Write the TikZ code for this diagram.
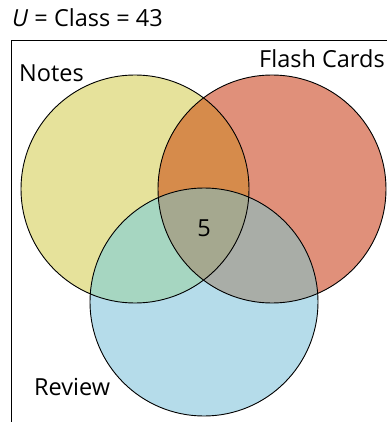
\documentclass[tikz,border=0pt]{standalone}
\usepackage{fontspec}
\setmainfont{Open Sans}
\definecolor{notescol}{HTML}{E6E29B}
\definecolor{flashcol}{HTML}{E0907A}
\definecolor{reviewcol}{HTML}{B5DCEA}
\definecolor{nfcol}{HTML}{D68B4B}
\definecolor{nrcol}{HTML}{A6D6C1}
\definecolor{frcol}{HTML}{A9ADA7}
\definecolor{allcol}{HTML}{A5A88F}
\begin{document}
\begin{tikzpicture}[x=1pt, y=-1pt]
  % Define styles
  \tikzset{setline/.style={draw=black, line width=0.9pt},
           label/.style={font=\fontsize{23.5}{27}\selectfont, inner sep=0pt, anchor=base west}}
  \useasboundingbox (0,0) rectangle (386,422);

  % Centres
  \coordinate (notes) at (135,189);
  \coordinate (flash) at (272,189);
  \coordinate (review) at (204,302);
  \def\rad{114}

  % Universe
  \draw[line width=0.9pt] (11,422) -- (11,40) -- (390,40);

  % Sets
  \fill[notescol] (notes) circle (\rad);
  \fill[flashcol] (flash) circle (\rad);
  \fill[reviewcol] (review) circle (\rad);

  % Overlaps
  \begin{scope}
    \clip (notes) circle (\rad);
    \fill[nfcol] (flash) circle (\rad);
    \fill[nrcol] (review) circle (\rad);
  \end{scope}
  \begin{scope}
    \clip (flash) circle (\rad);
    \fill[frcol] (review) circle (\rad);
  \end{scope}
  \begin{scope}
    \clip (notes) circle (\rad);
    \clip (flash) circle (\rad);
    \fill[allcol] (review) circle (\rad);
  \end{scope}

  \draw[setline] (notes) circle (\rad);
  \draw[setline] (flash) circle (\rad);
  \draw[setline] (review) circle (\rad);

  % Labels
  \node[label] (title) at (12,27) {\textit{U} = Class = 43};
  \node[label] (notestext) at (19,82) {Notes};
  \node[label] (flashtext) at (259,68) {Flash Cards};
  \node[label] (reviewtext) at (34,395) {Review};
  \node[font=\fontsize{23.5}{27}\selectfont] (centre) at (204,228) {5};
\end{tikzpicture}
\end{document}
